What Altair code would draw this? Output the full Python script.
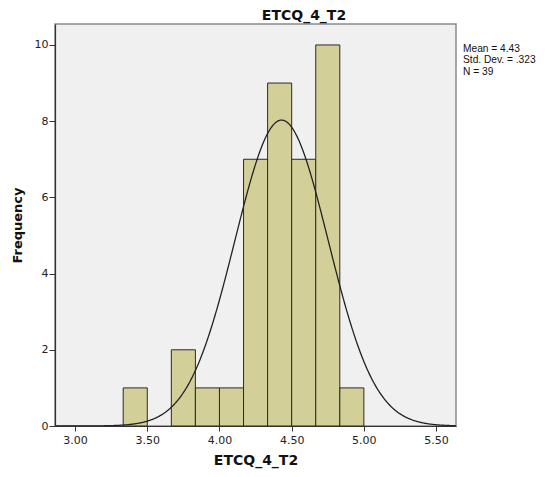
import altair as alt
import pandas as pd

# Histogram data
BIN_START = [3.3333, 3.5, 3.6667, 3.8333, 4.0, 4.1667, 4.3333, 4.5, 4.6667, 4.8333]
BIN_END = [3.5, 3.6667, 3.8333, 4.0, 4.1667, 4.3333, 4.5, 4.6667, 4.8333, 5.0]
COUNTS = [1, 0, 2, 1, 1, 7, 9, 7, 10, 1]

# Summary statistics shown on the chart
MEAN = 4.43
SD = 0.323
N = 39
BIN_WIDTH = 1 / 6

X_TICKS = [3.0, 3.5, 4.0, 4.5, 5.0, 5.5]
Y_TICKS = [0, 2, 4, 6, 8, 10]
STATS_LINES = ["Mean = 4.43", "Std. Dev. = .323", "N = 39"]

X_DOMAIN = [2.861, 5.638]
Y_DOMAIN = [0, 10.55]

FONT = "DejaVu Sans"
STAT_FONT = "Liberation Sans"

bars_df = pd.DataFrame({"start": BIN_START, "end": BIN_END, "count": COUNTS})
bars_df = bars_df[bars_df["count"] > 0]

xs = alt.Scale(domain=X_DOMAIN, nice=False, zero=False)
ys = alt.Scale(domain=Y_DOMAIN, nice=False)

bars = alt.Chart(bars_df).mark_rect(
    fill="#D3CF98", stroke="#2a2a2a", strokeWidth=1
).encode(
    x=alt.X("start:Q", scale=xs,
            axis=alt.Axis(values=X_TICKS, format=".2f", title="ETCQ_4_T2",
                          titleFont=FONT, titleFontSize=14, titleFontWeight="bold",
                          titleColor="#111", titlePadding=8,
                          labelFont=FONT, labelFontSize=11, labelColor="#222",
                          tickSize=5, tickColor="#333", domainColor="#333",
                          domainWidth=1.2, labelPadding=3, grid=False)),
    x2="end:Q",
    y=alt.Y("count:Q", scale=ys,
            axis=alt.Axis(values=Y_TICKS, title="Frequency",
                          titleFont=FONT, titleFontSize=13, titleFontWeight="bold",
                          titleColor="#111", titlePadding=10,
                          labelFont=FONT, labelFontSize=11, labelColor="#222",
                          tickSize=6, tickColor="#333", domainColor="#333",
                          domainWidth=1.2, labelPadding=1, grid=False)),
    y2=alt.datum(0),
)

curve = alt.Chart(alt.sequence(X_DOMAIN[0], X_DOMAIN[1] + 0.001, 0.005, as_="v")).transform_calculate(
    f=f"densityNormal(datum.v, {MEAN}, {SD}) * {N} * {BIN_WIDTH}"
).mark_line(color="#222", strokeWidth=1.3, clip=True).encode(
    x=alt.X("v:Q", scale=xs),
    y=alt.Y("f:Q", scale=ys),
)

title = alt.Chart(pd.DataFrame({"t": ["ETCQ_4_T2"]})).mark_text(
    font=FONT, fontSize=14, fontWeight="bold", color="#111",
    align="center", baseline="alphabetic"
).encode(text="t:N", x=alt.value(249), y=alt.value(-4))

stat_layers = []
for i, line in enumerate(STATS_LINES):
    stat_layers.append(
        alt.Chart(pd.DataFrame({"t": [line]})).mark_text(
            font=STAT_FONT, fontSize=10.2, color="#111", align="left", baseline="middle"
        ).encode(text="t:N", x=alt.value(408), y=alt.value(25 + 11.4 * i))
    )

chart = alt.layer(bars, curve, title, *stat_layers).properties(
    width=401, height=402,
    autosize=alt.AutoSizeParams(type="none"),
    padding={"left": 47, "top": 16, "right": 86, "bottom": 45},
).configure_view(
    fill="#F0F0F0", stroke="#8a8a8a", strokeWidth=1.5
)

chart.save("out.html", embed_options={"renderer": "svg", "actions": False})
